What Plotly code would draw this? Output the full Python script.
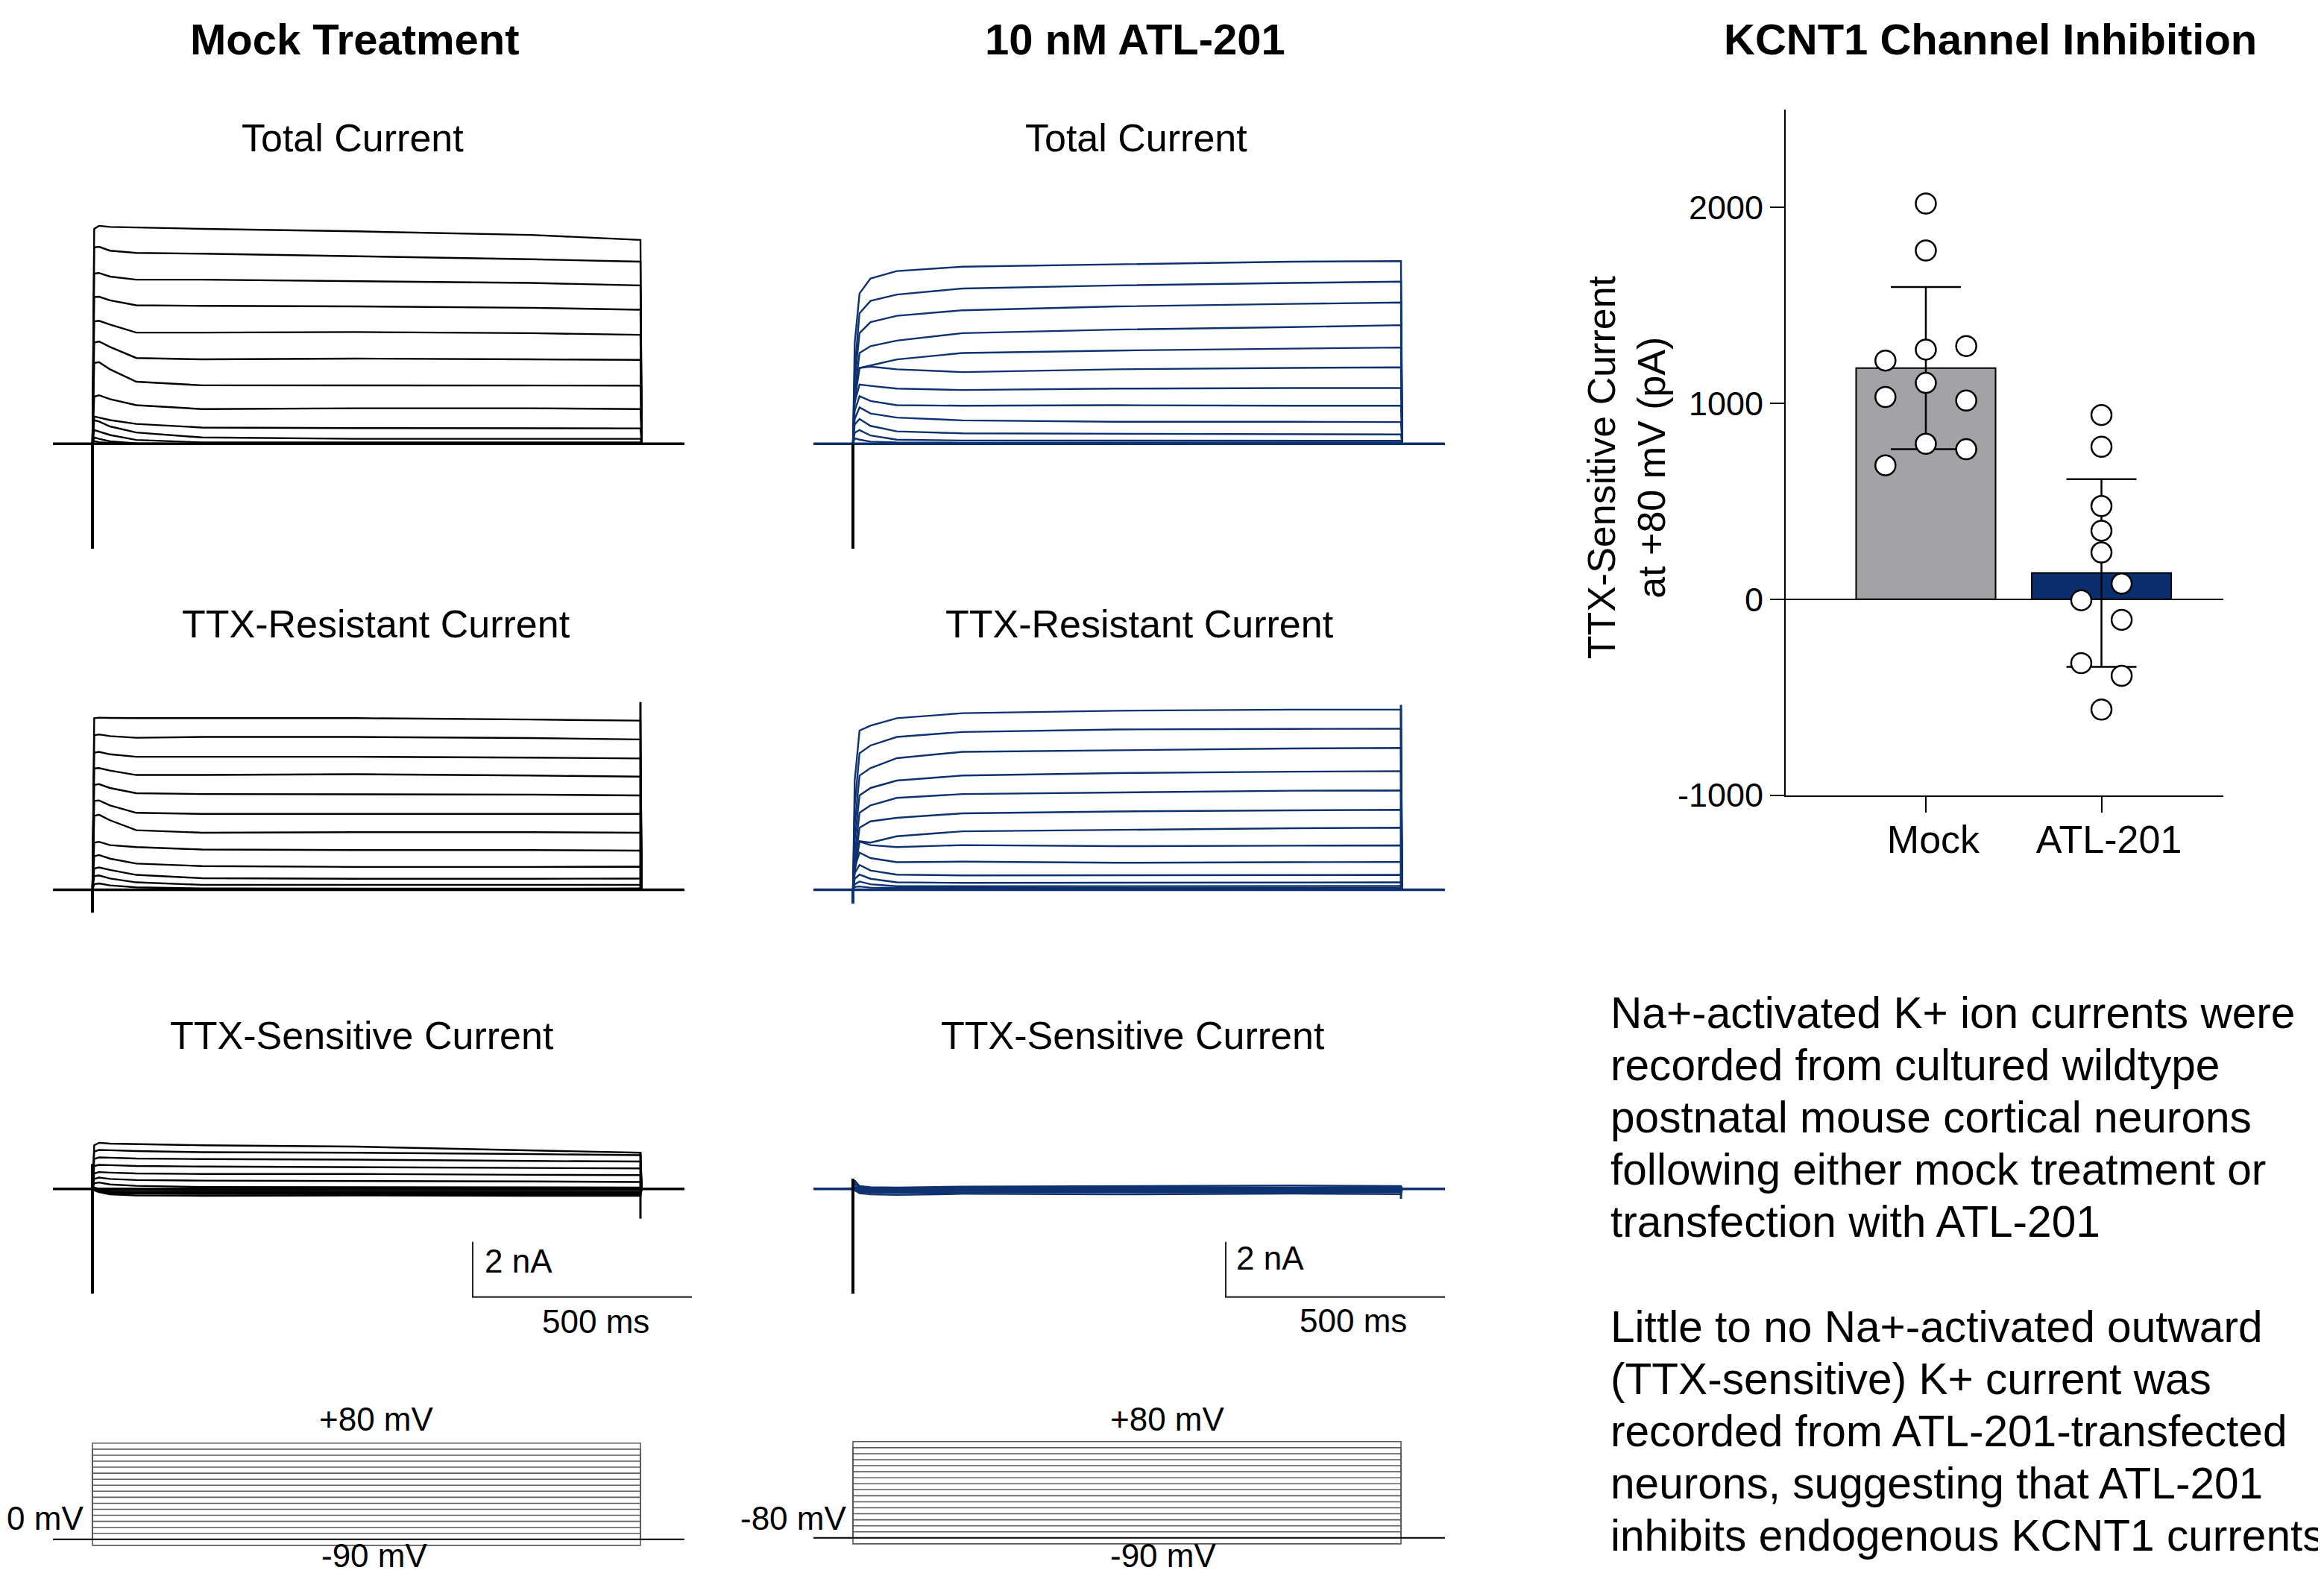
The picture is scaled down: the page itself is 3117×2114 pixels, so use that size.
import numpy as np
import plotly.graph_objects as go

W, H = 3117, 2114          # target picture size
OFF = 8                    # default page margin of the html body
VS = 2114 / 2141           # observed vertical scaling between page and picture
FW = W - 2 * OFF
FH = 2125
FONT = "Liberation Sans, Arial, Helvetica, sans-serif"

# ---------------- data ----------------
# key time points (ms after step onset) at which sweep currents (nA) were read
T_KEY = [0, 4, 15, 40, 100, 250, 600, 1000, 1250]
STEP_END = 1250
T_PRE = -90
T_POST = 1350

MOCK_TOTAL = [
    [0, 7.79, 7.90, 7.86, 7.84, 7.79, 7.70, 7.57, 7.39],
    [0, 7.12, 7.14, 7.00, 6.92, 6.89, 6.80, 6.69, 6.60],
    [0, 6.17, 6.19, 6.06, 5.95, 5.95, 5.90, 5.83, 5.74],
    [0, 5.32, 5.33, 5.20, 5.02, 5.00, 4.98, 4.93, 4.86],
    [0, 4.44, 4.46, 4.32, 4.03, 4.03, 4.05, 4.01, 3.95],
    [0, 3.67, 3.71, 3.51, 3.11, 3.06, 3.09, 3.06, 3.04],
    [0, 2.93, 2.96, 2.70, 2.25, 2.12, 2.12, 2.12, 2.11],
    [0, 1.71, 1.76, 1.62, 1.40, 1.26, 1.29, 1.29, 1.26],
    [0, 0.99, 0.95, 0.86, 0.72, 0.59, 0.57, 0.57, 0.56],
    [0, 0.86, 0.81, 0.63, 0.41, 0.23, 0.18, 0.18, 0.18],
    [0, 0.50, 0.45, 0.32, 0.14, 0.05, 0.05, 0.05, 0.05],
    [0, 0.23, 0.18, 0.09, 0.02, 0.00, 0.00, 0.00, 0.00],
    [0, 0.10, 0.06, 0.03, 0.01, 0.00, 0.00, 0.00, 0.00],
]
MOCK_RESIST = [
    [0, 6.22, 6.24, 6.23, 6.22, 6.22, 6.22, 6.17, 6.13],
    [0, 5.60, 5.63, 5.57, 5.51, 5.54, 5.54, 5.50, 5.45],
    [0, 4.97, 5.00, 4.91, 4.82, 4.82, 4.82, 4.79, 4.76],
    [0, 4.40, 4.41, 4.32, 4.16, 4.16, 4.19, 4.14, 4.10],
    [0, 3.80, 3.83, 3.69, 3.50, 3.47, 3.47, 3.45, 3.42],
    [0, 3.22, 3.24, 3.06, 2.79, 2.75, 2.75, 2.75, 2.75],
    [0, 2.68, 2.72, 2.52, 2.16, 2.07, 2.09, 2.09, 2.07],
    [0, 1.71, 1.74, 1.62, 1.55, 1.46, 1.44, 1.44, 1.42],
    [0, 1.22, 1.26, 1.13, 0.95, 0.86, 0.83, 0.83, 0.84],
    [0, 0.77, 0.81, 0.72, 0.54, 0.42, 0.40, 0.40, 0.41],
    [0, 0.50, 0.52, 0.41, 0.27, 0.18, 0.18, 0.16, 0.18],
    [0, 0.20, 0.23, 0.16, 0.09, 0.05, 0.04, 0.04, 0.05],
]
MOCK_SENS = [
    [0, 1.58, 1.67, 1.64, 1.62, 1.58, 1.53, 1.40, 1.31],
    [0, 1.35, 1.41, 1.40, 1.37, 1.33, 1.31, 1.26, 1.22],
    [0, 1.08, 1.14, 1.13, 1.10, 1.08, 1.06, 1.01, 0.99],
    [0, 0.83, 0.87, 0.86, 0.83, 0.81, 0.79, 0.77, 0.74],
    [0, 0.56, 0.61, 0.59, 0.56, 0.54, 0.54, 0.51, 0.50],
    [0, 0.36, 0.41, 0.36, 0.32, 0.30, 0.29, 0.27, 0.25],
    [0, 0.20, 0.23, 0.16, 0.11, 0.07, 0.06, 0.05, 0.05],
    [0, 0.05, 0.00, -0.05, -0.05, -0.05, -0.05, -0.05, -0.05],
    [0, 0.05, -0.05, -0.10, -0.12, -0.10, -0.10, -0.10, -0.12],
    [0, 0.00, -0.10, -0.15, -0.18, -0.18, -0.20, -0.18, -0.20],
    [0, -0.05, -0.12, -0.20, -0.24, -0.25, -0.24, -0.25, -0.25],
    [0, -0.05, -0.10, -0.15, -0.15, -0.14, -0.15, -0.15, -0.14],
]
ATL_TOTAL = [
    [0, 3.65, 5.45, 5.99, 6.26, 6.42, 6.51, 6.60, 6.62],
    [0, 2.75, 4.73, 5.18, 5.41, 5.63, 5.74, 5.83, 5.88],
    [0, 2.30, 4.01, 4.41, 4.64, 4.84, 4.98, 5.07, 5.12],
    [0, 1.85, 3.29, 3.54, 3.74, 4.01, 4.14, 4.23, 4.30],
    [0, 1.58, 2.75, 2.84, 3.06, 3.29, 3.38, 3.45, 3.49],
    [0, 1.80, 2.75, 2.80, 2.70, 2.60, 2.70, 2.75, 2.77],
    [0, 1.50, 2.15, 2.10, 2.00, 1.95, 2.00, 2.02, 2.02],
    [0, 1.20, 1.73, 1.55, 1.40, 1.38, 1.40, 1.38, 1.38],
    [0, 0.90, 1.32, 1.10, 0.95, 0.85, 0.80, 0.80, 0.79],
    [0, 0.70, 0.90, 0.65, 0.45, 0.38, 0.36, 0.35, 0.34],
    [0, 0.40, 0.50, 0.30, 0.15, 0.12, 0.11, 0.11, 0.11],
    [0, 0.20, 0.15, 0.08, 0.05, 0.04, 0.04, 0.05, 0.05],
]
ATL_RESIST = [
    [0, 3.96, 5.77, 5.95, 6.22, 6.40, 6.49, 6.53, 6.53],
    [0, 3.06, 4.95, 5.23, 5.54, 5.72, 5.81, 5.83, 5.84],
    [0, 2.34, 4.14, 4.41, 4.77, 5.00, 5.06, 5.12, 5.14],
    [0, 1.80, 3.42, 3.69, 3.96, 4.14, 4.23, 4.28, 4.30],
    [0, 1.26, 2.79, 3.06, 3.33, 3.47, 3.53, 3.59, 3.60],
    [0, 0.90, 2.25, 2.48, 2.61, 2.77, 2.84, 2.88, 2.90],
    [0, 0.63, 1.76, 1.71, 1.94, 2.12, 2.18, 2.23, 2.25],
    [0, 0.90, 1.75, 1.62, 1.55, 1.62, 1.58, 1.60, 1.61],
    [0, 0.80, 1.35, 1.15, 1.00, 1.02, 0.98, 1.00, 1.01],
    [0, 0.60, 0.90, 0.70, 0.55, 0.52, 0.53, 0.54, 0.54],
    [0, 0.40, 0.55, 0.40, 0.27, 0.25, 0.26, 0.27, 0.27],
    [0, 0.20, 0.30, 0.20, 0.13, 0.13, 0.13, 0.14, 0.14],
    [0, 0.10, 0.12, 0.08, 0.07, 0.07, 0.07, 0.07, 0.07],
]
ATL_SENS = [
    [0, 0.30, 0.10, 0.06, 0.05, 0.08, 0.10, 0.12, 0.10],
    [0, 0.20, 0.05, 0.03, 0.02, 0.04, 0.06, 0.05, 0.06],
    [0, 0.10, 0.00, -0.02, 0.00, 0.02, 0.01, 0.03, 0.02],
    [0, 0.05, -0.05, -0.06, -0.05, -0.03, -0.04, -0.02, -0.03],
    [0, 0.00, -0.08, -0.10, -0.10, -0.08, -0.09, -0.07, -0.08],
    [0, -0.05, -0.12, -0.14, -0.15, -0.13, -0.12, -0.11, -0.12],
    [0, -0.05, -0.16, -0.20, -0.22, -0.18, -0.20, -0.17, -0.19],
    [0, 0.02, -0.02, -0.04, -0.06, -0.05, -0.03, -0.04, -0.05],
    [0, 0.04, 0.02, 0.00, -0.01, 0.00, 0.02, 0.00, 0.01],
]
# stimulus artifacts (nA): onset [low, high], step end [low, high]
ART_ONSET = {"mock_total": [-3.8, 0.0], "mock_res": [-0.83, 0.0], "mock_sens": [-3.8, 0.9],
             "atl_total": [-3.8, 0.0], "atl_res": [-0.5, 0.0], "atl_sens": [-3.8, 0.37]}
ART_END = {"mock_total": [0.0, 0.0], "mock_res": [0.0, 6.8], "mock_sens": [-1.08, 1.31],
           "atl_total": [0.0, 0.0], "atl_res": [0.0, 6.7], "atl_sens": [-0.36, 0.1]}

# voltage protocol (mV)
HOLD_MV = -80
STEP_MV = [-90, -80, -70, -60, -50, -40, -30, -20, -10, 0, 10, 20, 30, 40, 50, 60, 70, 80]

# scale bars
SCALE_NA = 2
SCALE_MS = 500

# bar chart: TTX-sensitive current at +80 mV (pA)
CATEGORIES = ["Mock", "ATL-201"]
MOCK_PTS = [2021, 1781, 1219, 1275, 1293, 1105, 1033, 1015, 794, 766, 684]
ATL_PTS = [941, 779, 476, 350, 239, 80, -5, -105, -326, -391, -563]
MOCK_JIT = [0, 0, -0.23, 0, 0.23, 0, -0.23, 0.23, 0, 0.23, -0.23]
ATL_JIT = [0, 0, 0, 0, 0, 0.115, -0.115, 0.115, -0.115, 0.115, 0]
Y_TICKS = [-1000, 0, 1000, 2000]
Y_TICKTEXT = ["-1000", "0", "1000", "2000"]

TEXT_LINES = [
    "Na+-activated K+ ion currents were",
    "recorded from cultured wildtype",
    "postnatal mouse cortical neurons",
    "following either mock treatment or",
    "transfection with ATL-201",
    "Little to no Na+-activated outward",
    "(TTX-sensitive) K+ current was",
    "recorded from ATL-201-transfected",
    "neurons, suggesting that ATL-201",
    "inhibits endogenous KCNT1 currents",
]

# ---------------- styling / layout constants ----------------
BLACK = "#000000"
NAVY = "#0E3270"
BAR_GRAY = "#A3A2A7"
BAR_NAVY = "#0B2F6C"
PX_MS = 0.588
PX_NA = 37.0
PX_MV = 0.806
Y_BOTTOM = (OFF + FH) * VS   # lowest picture row the figure reaches


def fx(px):
    return (px - OFF) / FW


def fy(py):
    return 1 - (py / VS - OFF) / FH


layout = dict(
    width=FW, height=FH, margin=dict(l=0, r=0, t=0, b=0, pad=0),
    paper_bgcolor="white", plot_bgcolor="white", showlegend=False,
    font=dict(family=FONT, color="black"),
)
fig = go.Figure()
_ax = [1]


def new_axes(x0, y0, sx, sy, box):
    _ax[0] += 1
    i = _ax[0]
    l, t, r, b = box
    l = max(l, OFF)
    b = min(b, Y_BOTTOM)
    layout[f"xaxis{i}"] = dict(domain=[fx(l), fx(r)], range=[(l - x0) / sx, (r - x0) / sx],
                               visible=False, anchor=f"y{i}", fixedrange=True)
    layout[f"yaxis{i}"] = dict(domain=[fy(b), fy(t)], range=[(y0 - b) / sy, (y0 - t) / sy],
                               visible=False, anchor=f"x{i}", fixedrange=True)
    return f"x{i}", f"y{i}"


def draw_sweeps(sweeps, key, color, x0, y0, top, bottom, art_color=None, lw=2.4):
    xa, ya = new_axes(x0, y0, PX_MS, PX_NA, (x0 - 110, top, x0 + 880, bottom))
    for vals in sweeps:
        xs = [T_PRE] + T_KEY + [STEP_END + 3, T_POST]
        ys = [0] + list(vals) + [0, 0]
        fig.add_trace(go.Scatter(x=xs, y=ys, mode="lines", xaxis=xa, yaxis=ya,
                                 line=dict(color=color, width=lw), hoverinfo="skip"))
    fig.add_trace(go.Scatter(x=[T_PRE, T_POST], y=[0, 0], mode="lines", xaxis=xa, yaxis=ya,
                             line=dict(color=color, width=3.5), hoverinfo="skip"))
    ac = art_color or color
    lo, hi = ART_ONSET[key]
    fig.add_trace(go.Scatter(x=[0, 0], y=[lo, hi], mode="lines", xaxis=xa, yaxis=ya,
                             line=dict(color=ac, width=4), hoverinfo="skip"))
    lo, hi = ART_END[key]
    if hi - lo > 0:
        fig.add_trace(go.Scatter(x=[STEP_END, STEP_END], y=[lo, hi], mode="lines", xaxis=xa, yaxis=ya,
                                 line=dict(color=color, width=3), hoverinfo="skip"))
    return xa, ya


def draw_scalebar(xa, ya, t0, i0):
    fig.add_trace(go.Scatter(x=[t0, t0, t0 + SCALE_MS], y=[i0 + SCALE_NA, i0, i0], mode="lines",
                             xaxis=xa, yaxis=ya, line=dict(color="#222", width=2), hoverinfo="skip"))


def draw_protocol(x0, y_m90):
    y0 = y_m90 - 90 * PX_MV
    xa, ya = new_axes(x0, y0, PX_MS, PX_MV, (x0 - 110, 1915, x0 + 880, H))
    for v in STEP_MV:
        fig.add_trace(go.Scatter(x=[T_PRE, 0, 0, STEP_END, STEP_END, T_POST],
                                 y=[HOLD_MV, HOLD_MV, v, v, HOLD_MV, HOLD_MV], mode="lines",
                                 xaxis=xa, yaxis=ya, line=dict(color="#5a5a5a", width=1.6), hoverinfo="skip"))
    fig.add_trace(go.Scatter(x=[T_PRE, T_POST], y=[HOLD_MV, HOLD_MV], mode="lines", xaxis=xa, yaxis=ya,
                             line=dict(color="#111", width=2), hoverinfo="skip"))


# ---------------- bar chart (axis 1) ----------------
means = [float(np.mean(MOCK_PTS)), float(np.mean(ATL_PTS))]
sds = [float(np.std(MOCK_PTS, ddof=1)), float(np.std(ATL_PTS, ddof=1))]
fig.add_trace(go.Bar(x=[0, 1], y=means, width=0.794, xaxis="x", yaxis="y",
                     marker=dict(color=[BAR_GRAY, BAR_NAVY], line=dict(color="black", width=2)),
                     error_y=dict(type="data", array=sds, visible=True, color="black", thickness=2.5, width=47),
                     hoverinfo="skip"))
fig.add_trace(go.Scatter(x=[0 + j for j in MOCK_JIT], y=MOCK_PTS, mode="markers", xaxis="x", yaxis="y",
                         marker=dict(size=27, color="white", line=dict(color="black", width=2.5)),
                         hoverinfo="skip"))
fig.add_trace(go.Scatter(x=[1 + j for j in ATL_JIT], y=ATL_PTS, mode="markers", xaxis="x", yaxis="y",
                         marker=dict(size=27, color="white", line=dict(color="black", width=2.5)),
                         hoverinfo="skip"))
layout["xaxis"] = dict(domain=[fx(2395), fx(2982)], range=[-0.798, 1.694], tickvals=[0, 1],
                       ticktext=CATEGORIES, ticks="outside", ticklen=21, tickwidth=2, tickcolor="black",
                       showline=True, linewidth=2, linecolor="black", showgrid=False, zeroline=False,
                       ticklabelshift=10, ticklabelstandoff=-8,
                       tickfont=dict(size=52, family=FONT, color="black"), anchor="y", fixedrange=True)
layout["yaxis"] = dict(domain=[fy(1066), fy(147)], range=[-1000, 2500],
                       tickvals=Y_TICKS, ticktext=Y_TICKTEXT, ticks="outside", ticklen=19, tickwidth=2,
                       tickcolor="black", showline=True, linewidth=2, linecolor="black", showgrid=False,
                       zeroline=True, zerolinecolor="black", zerolinewidth=2,
                       tickfont=dict(size=45, family=FONT, color="black"), anchor="x", fixedrange=True)

# ---------------- traces ----------------
draw_sweeps(MOCK_TOTAL, "mock_total", BLACK, 124, 595, 230, 780)
draw_sweeps(MOCK_RESIST, "mock_res", BLACK, 124, 1193, 880, 1300)
xs_, ys_ = draw_sweeps(MOCK_SENS, "mock_sens", BLACK, 124, 1594, 1420, 1810)
draw_scalebar(xs_, ys_, (634 - 124) / PX_MS, (1594 - 1739) / PX_NA)
draw_sweeps(ATL_TOTAL, "atl_total", NAVY, 1144, 595, 230, 780, art_color=BLACK)
draw_sweeps(ATL_RESIST, "atl_res", NAVY, 1144, 1193, 880, 1300)
xs_, ys_ = draw_sweeps(ATL_SENS, "atl_sens", NAVY, 1144, 1594, 1420, 1810, art_color=BLACK)
draw_scalebar(xs_, ys_, (1644 - 1144) / PX_MS, (1594 - 1739) / PX_NA)
draw_protocol(124, 2072)
draw_protocol(1144, 2070)

# ---------------- annotations ----------------
ann = []


def text(s, x, y, size, bold=False, xanchor="center", angle=0):
    ann.append(dict(text=f"<b>{s}</b>" if bold else s, x=fx(x), y=fy(y), xref="paper", yref="paper",
                    xanchor=xanchor, yanchor="middle", showarrow=False, textangle=angle,
                    font=dict(size=size, family=FONT, color="black")))


text("Mock Treatment", 476, 52, 58, bold=True)
text("10 nM ATL-201", 1522, 52, 58, bold=True)
text("KCNT1 Channel Inhibition", 2669, 52, 58, bold=True)
for cx in (473, 1524):
    text("Total Current", cx, 185, 52)
text("TTX-Resistant Current", 504, 837, 52)
text("TTX-Resistant Current", 1528, 837, 52)
text("TTX-Sensitive Current", 485, 1388, 52)
text("TTX-Sensitive Current", 1519, 1388, 52)
text("2 nA", 695, 1691, 44)
text("2 nA", 1703, 1687, 44)
text("500 ms", 799, 1772, 44)
text("500 ms", 1815, 1771, 44)
text("+80 mV", 505, 1903, 44)
text("+80 mV", 1566, 1903, 44)
text("-90 mV", 502, 2086, 44)
text("-90 mV", 1560, 2086, 44)
text("-80 mV", 114, 2036, 44, xanchor="right")
text("-80 mV", 1137, 2036, 44, xanchor="right")
text("TTX-Sensitive Current<br>at +80 mV (pA)", 2182, 627, 52, angle=-90)

centers = [1358, 1428, 1498, 1568, 1638, 1779, 1849, 1919, 1989, 2059]
for s, c in zip(TEXT_LINES, centers):
    text(s, 2158, c, 58.6, xanchor="left")

layout["annotations"] = ann
fig.update_layout(**layout)
fig.write_html("out.html")
